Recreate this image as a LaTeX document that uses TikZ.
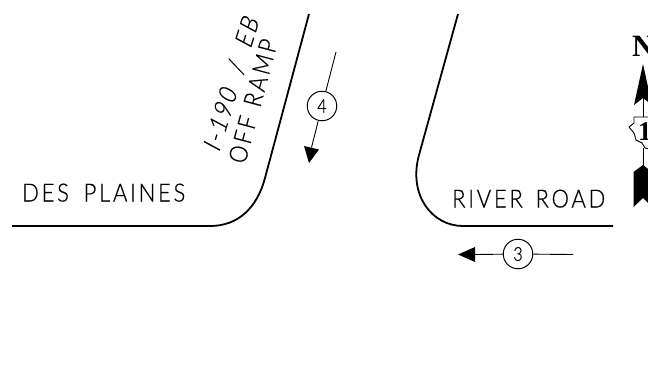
\documentclass[tikz,border=0pt]{standalone}
\usepackage{fontspec}
\setmainfont{Lato Light}
\newfontfamily\cadfont[LetterSpace=11,FakeStretch=0.88,FakeBold=0.5]{Lato Light}
\newfontfamily\digitfont[FakeStretch=0.85,FakeBold=0.5]{Lato Light}
\newfontfamily\northfont{Liberation Serif Bold}
\begin{document}
\begin{tikzpicture}[x=1pt,y=-1pt,
  roadedge/.style={line width=1.8pt,line join=round},
  leader/.style={line width=0.9pt},
  headfill/.style={fill=black,draw=none},
  badge/.style={circle,draw,line width=1pt,fill=white,minimum size=29.5pt,inner sep=0pt,font=\digitfont\fontsize{19}{19}\selectfont},
  cadtext/.style={inner sep=0pt,font=\cadfont\fontsize{25}{25}\selectfont}]
\useasboundingbox (0,0) rectangle (648,368);
% roads
\draw[roadedge] (12,226) -- (210,226) .. controls (238,226) and (257,208) .. (265,178) -- (309,14);
\draw[roadedge] (458,14) -- (419,155) .. controls (408,195) and (432,226) .. (463,226) -- (613,226);
% labels
\node[cadtext,anchor=base west] (desplaines) at (22,201.5) {DES\hspace{6pt} PLAINES};
\node[cadtext,anchor=base west] (riverroad) at (452,207.5) {RIVER\hspace{4pt} ROAD};
\node[cadtext,anchor=base west,rotate=73,xslant=0.2] (ramp1) at (219,153) {I-190\hspace{9pt} /\hspace{9pt} EB};
\node[cadtext,anchor=base west,rotate=75] (ramp2) at (245,165) {OFF\hspace{2pt} RAMP};
% movement 4
\node[badge] (four) at (322,106) {4};
\coordinate (fourstart) at (336,52);
\coordinate (fourtip) at (309,163);
\coordinate (fourbase) at (311.5,147.5);
\draw[leader] (fourstart) -- (four);
\draw[leader] (four) -- (fourbase);
\fill[headfill] (fourtip) -- (304,146) -- (319,149.5) -- cycle;
% movement 3
\node[badge] (three) at (518,254) {3};
\coordinate (threestart) at (573,254.5);
\coordinate (threetip) at (458,254.5);
\coordinate (threebase) at (475,254.5);
\draw[leader] (threestart) -- (three);
\draw[leader] (three) -- (threebase);
\fill[headfill] (threetip) -- (475,247) -- (475,262) -- cycle;
% north arrow
\begin{scope}
\clip (0,0) rectangle (648,368);
\node[inner sep=0pt,anchor=base west,font=\northfont\fontsize{31}{31}\selectfont] (north) at (632,56) {N};
\fill[headfill] (643,64) -- (634,105) -- (643,98) -- (652,105) -- cycle;
\draw[line width=1pt] (643,98) -- (643,117);
\draw[line width=0.9pt,line join=round,fill=white] (634,117) -- (650,117) -- (655,125) -- (655,150) -- (645,148) -- (642,143) -- (636,140) -- (634,133) -- (629,127) -- (634,123) -- cycle;
\node[inner sep=0pt,anchor=base west,font=\northfont\fontsize{27}{27}\selectfont] (route) at (638,140) {1};
\draw[line width=1pt] (643,148) -- (643,166);
\fill[headfill] (643,165) -- (633.5,172) -- (633.5,207) -- (643,198) -- (652,207) -- (652,172) -- cycle;
\end{scope}
\end{tikzpicture}
\end{document}
